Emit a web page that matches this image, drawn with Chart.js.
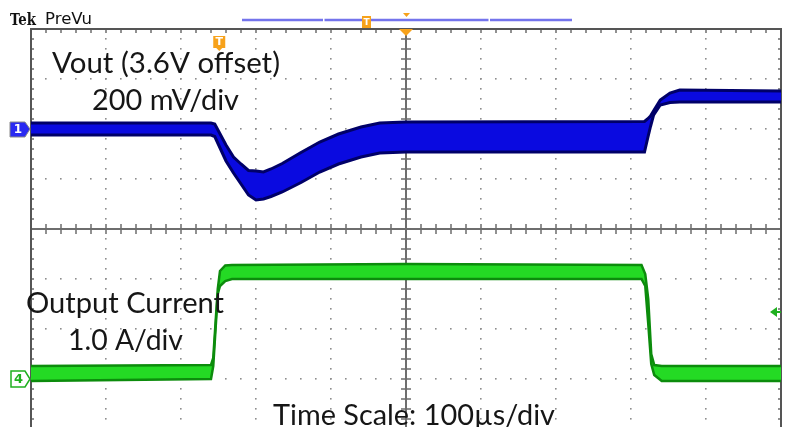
<!DOCTYPE html>
<html><head><meta charset="utf-8">
<script src="https://cdn.jsdelivr.net/npm/chart.js@4"></script>
<style>
html,body{margin:0;padding:0;background:#fff;overflow:hidden;width:788px;height:427px}
canvas{display:block}
</style></head><body>
<canvas id="c" width="788" height="431"></canvas>
<script>
// ---- data ----
// time axis: microseconds from left edge of screen (100 us/div, 10 div)
const voutTimeUs   = [0, 240, 245, 260, 270, 280, 290, 300, 310, 320, 335, 360, 385, 410, 440, 465, 500, 818, 822, 826, 830, 839, 852, 865, 1000];
// Vout envelope, mV relative to 3.6 V offset (200 mV/div)
const voutUpperMv  = [24, 24, 20, -64, -112, -140, -166, -168, -172, -160, -138, -94, -52, -20, 8, 24, 28, 30, 40, 52, 72, 116, 144, 156, 152];
const voutLowerMv  = [-24, -24, -30, -128, -176, -220, -264, -284, -280, -270, -252, -214, -172, -140, -112, -96, -92, -92, -40, 10, 55, 96, 106, 108, 108];

const ioutTimeUs   = [0, 240, 243, 249, 252, 259, 268, 500, 814, 819, 823, 827, 831, 841, 1000];
// Output current envelope, A (1.0 A/div)
const ioutUpperA   = [0.26, 0.28, 0.42, 1.80, 2.16, 2.27, 2.28, 2.30, 2.28, 2.10, 1.60, 0.50, 0.28, 0.26, 0.26];
const ioutLowerA   = [-0.04, 0.00, 0.26, 1.70, 1.86, 1.96, 2.00, 2.00, 2.00, 1.86, 1.10, 0.30, 0.08, -0.04, -0.04];

const timeRangeUs  = [0, 1000];
const voutRangeMv  = [-1200, 400];
const ioutRangeA   = [-1, 7];
const triggerTimeUs = 251;
const triggerLevelA = 1.34;

const labels = [
  {text: 'Vout (3.6V offset)', x: 52, y: 73, w: 228},
  {text: '200 mV/div', x: 92, y: 110, w: 147},
  {text: 'Output Current', x: 26, y: 313, w: 198},
  {text: '1.0 A/div', x: 68, y: 350, w: 115},
  {text: 'Time Scale: 100\u00b5s/div', x: 273, y: 425, w: 282}
];

const pts = (xs, ys) => xs.map((t, i) => ({x: t, y: ys[i]}));

function fitText(ctx, text, x, y, w, font, color) {
  ctx.save();
  ctx.font = font;
  ctx.fillStyle = color;
  ctx.textBaseline = 'alphabetic';
  ctx.textAlign = 'left';
  const m = ctx.measureText(text).width;
  ctx.translate(x, y);
  ctx.scale(w / m, 1);
  ctx.fillText(text, 0, 0);
  ctx.restore();
}

const scopePlugin = {
  id: 'scope',
  beforeDatasetsDraw(chart) {
    const {ctx, chartArea: a, scales} = chart;
    const x = scales.x, yi = scales.yi;
    ctx.save();
    // dotted grid
    ctx.fillStyle = '#8e8e8e';
    for (let d = 1; d <= 9; d++) {
      if (d === 5) continue;
      const px = Math.round(x.getPixelForValue(d * 100));
      for (let m = -5; m <= 35; m++) {
        const py = Math.round(yi.getPixelForValue(m / 5));
        ctx.fillRect(px - 1, py - 1, 1.6, 1.6);
      }
    }
    for (let d = 0; d <= 6; d++) {
      if (d === 3) continue;
      const py = Math.round(yi.getPixelForValue(d));
      for (let m = 0; m <= 50; m++) {
        const px = Math.round(x.getPixelForValue(m * 20));
        ctx.fillRect(px - 1, py - 1, 1.6, 1.6);
      }
    }
    // center axes
    const cx = x.getPixelForValue(500), cy = yi.getPixelForValue(3);
    ctx.strokeStyle = '#6e6e6e';
    ctx.lineWidth = 2;
    ctx.beginPath();
    ctx.moveTo(a.left, cy); ctx.lineTo(a.right, cy);
    ctx.moveTo(cx, a.top); ctx.lineTo(cx, a.bottom);
    ctx.stroke();
    ctx.lineWidth = 1.5;
    ctx.beginPath();
    for (let m = 1; m < 50; m++) {
      const px = x.getPixelForValue(m * 20);
      ctx.moveTo(px, cy - 5); ctx.lineTo(px, cy + 5);
      ctx.moveTo(px, a.top); ctx.lineTo(px, a.top + 4);
    }
    for (let m = -4; m < 35; m++) {
      const py = yi.getPixelForValue(m / 5);
      ctx.moveTo(cx - 5, py); ctx.lineTo(cx + 5, py);
      ctx.moveTo(a.left, py); ctx.lineTo(a.left + 3, py);
      ctx.moveTo(a.right, py); ctx.lineTo(a.right - 3, py);
    }
    ctx.stroke();
    // frame
    ctx.strokeStyle = '#555';
    ctx.lineWidth = 2;
    ctx.strokeRect(a.left, a.top, a.right - a.left, a.bottom - a.top);
    ctx.restore();
  },
  afterDraw(chart) {
    const {ctx, chartArea: a, scales} = chart;
    const x = scales.x, yi = scales.yi, yv = scales.yv;
    ctx.save();
    // labels
    labels.forEach(l => fitText(ctx, l.text, l.x, l.y, l.w, '29px Lato', '#161616'));
    fitText(ctx, 'Tek', 10, 25, 26, 'bold 17px "DejaVu Serif"', '#111');
    fitText(ctx, 'PreVu', 45, 24, 47, '15px "DejaVu Sans"', '#111');
    // record-length bar at top
    ctx.strokeStyle = '#7474ec';
    ctx.lineWidth = 2.5;
    ctx.beginPath();
    ctx.moveTo(242, 20); ctx.lineTo(323, 20);
    ctx.moveTo(324.5, 20); ctx.lineTo(488.5, 20);
    ctx.moveTo(490, 20); ctx.lineTo(572, 20);
    ctx.stroke();
    ctx.fillStyle = '#f7a21b';
    ctx.fillRect(362, 16, 9, 12);
    ctx.fillStyle = '#fff';
    ctx.font = 'bold 9px "DejaVu Sans"';
    ctx.textAlign = 'center'; ctx.textBaseline = 'middle';
    ctx.fillText('T', 366.5, 22.5);
    ctx.fillStyle = '#f7a21b';
    ctx.beginPath(); ctx.moveTo(403, 13); ctx.lineTo(410, 13); ctx.lineTo(406.5, 17); ctx.closePath(); ctx.fill();
    // center position marker at top of graticule
    const cx = x.getPixelForValue(500);
    ctx.beginPath(); ctx.moveTo(cx - 7, a.top); ctx.lineTo(cx + 7, a.top); ctx.lineTo(cx, a.top + 7); ctx.closePath(); ctx.fill();
    // trigger position marker
    const tx = x.getPixelForValue(triggerTimeUs);
    ctx.fillStyle = '#f7a21b';
    ctx.fillRect(tx - 6, 36, 12, 12);
    ctx.beginPath(); ctx.moveTo(tx - 3, 48); ctx.lineTo(tx + 3, 48); ctx.lineTo(tx, 51); ctx.closePath(); ctx.fill();
    ctx.fillStyle = '#fff';
    ctx.font = 'bold 11px "DejaVu Sans"';
    ctx.fillText('T', tx, 42.5);
    // channel 1 marker
    const y1 = yv.getPixelForValue(0);
    ctx.fillStyle = '#2a2af2';
    ctx.strokeStyle = '#8a8a8a';
    ctx.lineWidth = 1;
    ctx.beginPath();
    ctx.moveTo(10, y1 - 7); ctx.lineTo(25, y1 - 7); ctx.lineTo(30, y1); ctx.lineTo(25, y1 + 8); ctx.lineTo(10, y1 + 8); ctx.closePath();
    ctx.fill(); ctx.stroke();
    ctx.fillStyle = '#fff';
    ctx.font = 'bold 12px "DejaVu Sans"';
    ctx.fillText('1', 18, y1 + 1);
    // channel 4 marker
    const y4 = yi.getPixelForValue(0);
    ctx.fillStyle = '#fff';
    ctx.strokeStyle = '#1fb01f';
    ctx.lineWidth = 1.5;
    ctx.beginPath();
    ctx.moveTo(11, y4 - 8); ctx.lineTo(25, y4 - 8); ctx.lineTo(30, y4); ctx.lineTo(25, y4 + 8); ctx.lineTo(11, y4 + 8); ctx.closePath();
    ctx.fill(); ctx.stroke();
    ctx.fillStyle = '#1fb01f';
    ctx.font = 'bold 13px "DejaVu Sans"';
    ctx.fillText('4', 18.5, y4 + 1);
    // trigger level arrow (ch4)
    const yt = yi.getPixelForValue(triggerLevelA);
    ctx.fillStyle = '#1fb01f';
    ctx.beginPath(); ctx.moveTo(770, yt); ctx.lineTo(777, yt - 5); ctx.lineTo(777, yt + 5); ctx.closePath(); ctx.fill();
    ctx.fillRect(776, yt - 1, 5, 2);
    ctx.restore();
  }
};

new Chart(document.getElementById('c'), {
  type: 'line',
  data: {
    datasets: [
      {data: pts(voutTimeUs, voutUpperMv), yAxisID: 'yv', borderColor: '#000068', borderWidth: 3, fill: false},
      {data: pts(voutTimeUs, voutLowerMv), yAxisID: 'yv', borderColor: '#000068', borderWidth: 3, fill: '-1', backgroundColor: '#0a0ae0'},
      {data: pts(ioutTimeUs, ioutUpperA), yAxisID: 'yi', borderColor: '#0c8c0c', borderWidth: 2.5, fill: false},
      {data: pts(ioutTimeUs, ioutLowerA), yAxisID: 'yi', borderColor: '#0c8c0c', borderWidth: 2.5, fill: '-1', backgroundColor: '#24da24'}
    ]
  },
  options: {
    responsive: false,
    animation: false,
    events: [],
    layout: {padding: {left: 31, top: 29, right: 7, bottom: 2}},
    elements: {point: {radius: 0}, line: {tension: 0}},
    plugins: {legend: {display: false}, tooltip: {enabled: false}},
    scales: {
      x: {type: 'linear', min: timeRangeUs[0], max: timeRangeUs[1], display: false},
      yv: {type: 'linear', min: voutRangeMv[0], max: voutRangeMv[1], display: false},
      yi: {type: 'linear', min: ioutRangeA[0], max: ioutRangeA[1], display: false}
    }
  },
  plugins: [scopePlugin]
});
</script>
</body></html>
